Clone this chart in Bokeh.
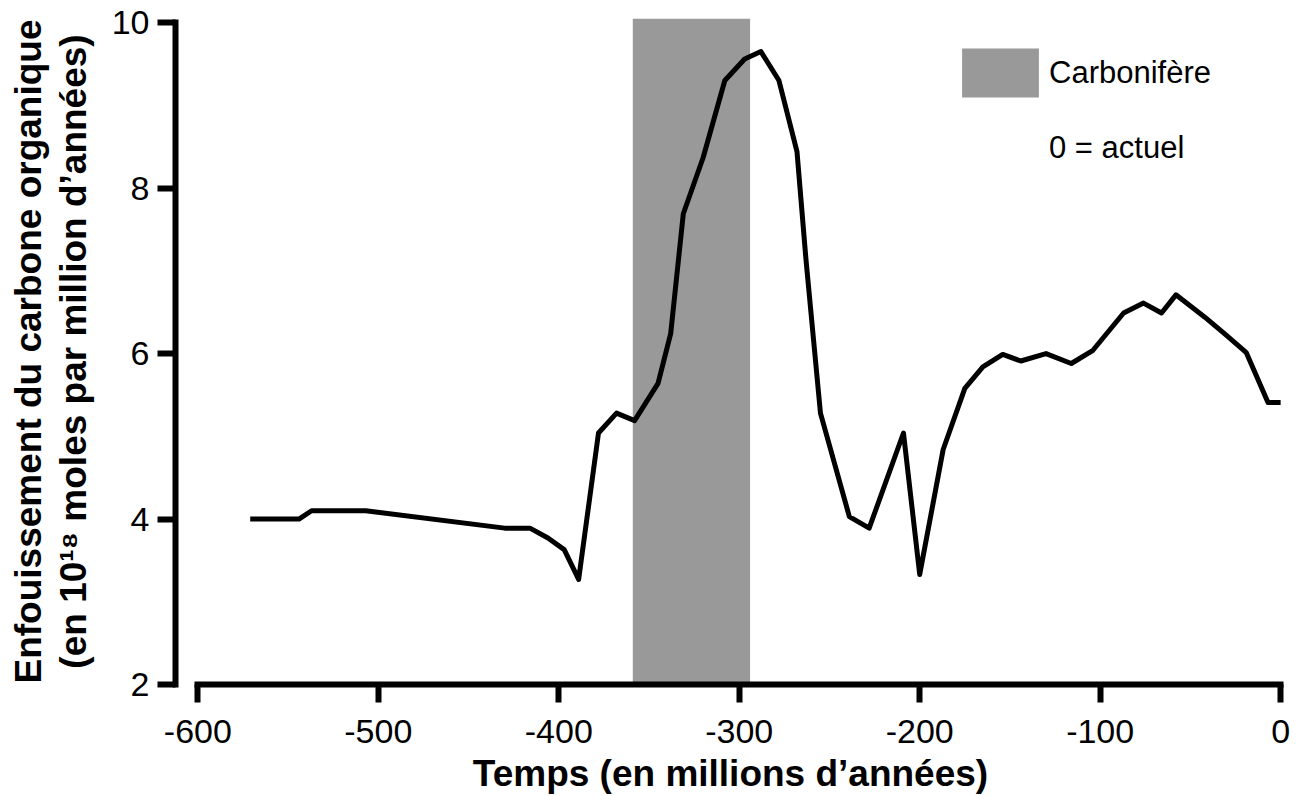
from bokeh.plotting import figure
from bokeh.models import FixedTicker, Legend, LegendItem, Range1d
from bokeh.embed import file_html
from bokeh.resources import INLINE

# --- data ---
time_ma = [-571, -544, -537, -507, -430, -416, -406, -397, -389, -378, -368, -358,
           -345, -338, -331, -320, -308, -297, -288, -278, -268, -263, -255, -239,
           -228, -209, -200, -187, -175, -165, -154, -144, -130, -116, -104, -87,
           -76, -66, -58, -42, -30, -19, -7, 0]
burial = [4.0, 4.0, 4.1, 4.1, 3.89, 3.89, 3.77, 3.63, 3.27, 5.04, 5.28, 5.19,
          5.64, 6.24, 7.69, 8.37, 9.30, 9.56, 9.65, 9.30, 8.44, 7.13, 5.28, 4.03,
          3.89, 5.04, 3.33, 4.84, 5.58, 5.84, 5.99, 5.91, 6.00, 5.88, 6.04, 6.49,
          6.61, 6.49, 6.71, 6.44, 6.22, 6.01, 5.41, 5.41]

carbonifere_start = -359
carbonifere_end = -294

x_ticks = [-600, -500, -400, -300, -200, -100, 0]
y_ticks = [2, 4, 6, 8, 10]

FONT = "Liberation Sans"

p = figure(width=1295, height=796, output_backend="svg", toolbar_location=None,
           x_range=Range1d(-612.4, 2.7), y_range=Range1d(2, 10.05),
           min_border_left=175, min_border_right=10, min_border_top=18,
           min_border_bottom=111)
p.outline_line_color = None
p.xgrid.visible = False
p.ygrid.visible = False
p.background_fill_color = "white"
p.border_fill_color = "white"

band = p.quad(left=[carbonifere_start], right=[carbonifere_end], bottom=[y_ticks[0]],
              top=[p.y_range.end], fill_color="#999999", line_color=None)
blank = p.quad(left=[], right=[], bottom=[], top=[], fill_alpha=0, line_alpha=0)

p.line(time_ma, burial, line_color="black", line_width=5, line_join="round")

for ax in (p.xaxis[0], p.yaxis[0]):
    ax.axis_line_width = 6
    ax.axis_line_color = "black"
    ax.axis_line_cap = "square"
    ax.major_tick_line_width = 6
    ax.major_tick_line_color = "black"
    ax.major_tick_in = 0
    ax.major_tick_out = 18
    ax.minor_tick_line_color = None
    ax.major_label_text_font = FONT
    ax.major_label_text_font_size = "34px"
    ax.major_label_text_color = "black"
    ax.axis_label_text_font = FONT
    ax.axis_label_text_font_size = "37px"
    ax.axis_label_text_font_style = "bold"
    ax.axis_label_text_color = "black"

p.xaxis[0].ticker = FixedTicker(ticks=x_ticks)
p.yaxis[0].ticker = FixedTicker(ticks=y_ticks)
p.xaxis[0].major_label_overrides = {t: str(t) for t in x_ticks}
p.yaxis[0].major_label_overrides = {t: str(t) for t in y_ticks}
p.xaxis[0].bounds = (x_ticks[0], x_ticks[-1])
p.yaxis[0].bounds = (y_ticks[0], y_ticks[-1])
p.xaxis[0].major_label_standoff = 17
p.yaxis[0].major_label_standoff = 8
p.xaxis[0].axis_label = "Temps (en millions d’années)"
p.yaxis[0].axis_label = "Enfouissement du carbone organique\n(en 10¹⁸ moles par million d’années)"
p.xaxis[0].axis_label_standoff = 7
p.yaxis[0].axis_label_standoff = 15
p.yaxis[0].axis_label_text_line_height = 1.08

legend = Legend(items=[LegendItem(label="Carbonifère", renderers=[band]),
                       LegendItem(label="0 = actuel", renderers=[blank])],
                location=(777, 506), orientation="vertical",
                glyph_width=96, glyph_height=61, spacing=14, padding=0, margin=0,
                label_standoff=1, label_text_font=FONT, label_text_font_size="31px",
                label_text_color="black", border_line_alpha=0, background_fill_alpha=0)
p.add_layout(legend)

open("out.html", "w").write(file_html(p, INLINE))
